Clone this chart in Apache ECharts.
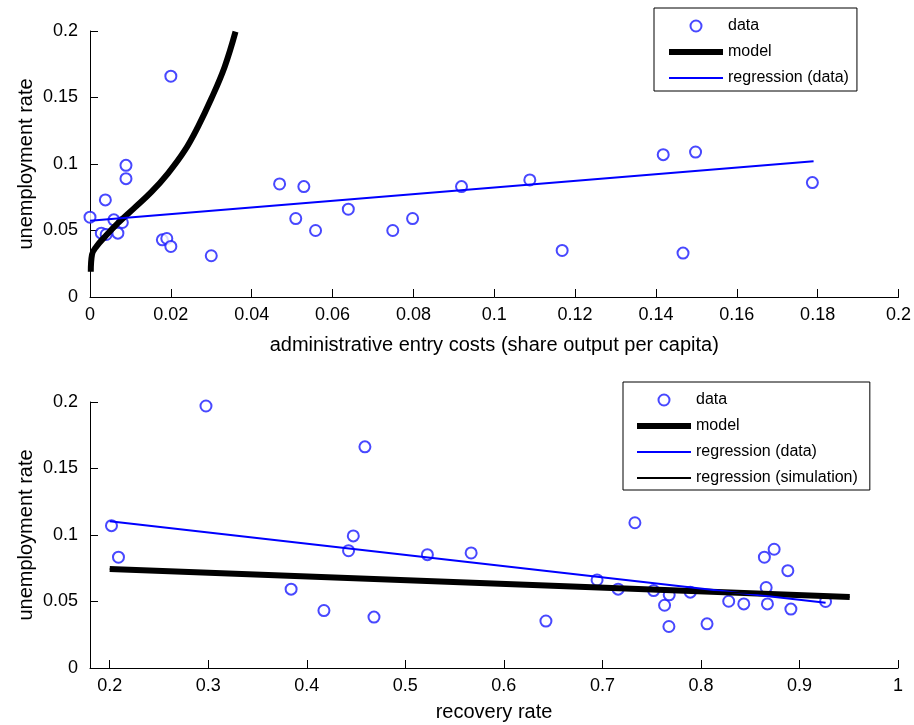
<!DOCTYPE html>
<html>
<head>
<meta charset="UTF-8">
<title>unemployment vs entry costs and recovery rate</title>
<script src="https://cdn.jsdelivr.net/npm/echarts@6/dist/echarts.min.js"></script>
<style>
  html, body { margin: 0; padding: 0; background: #fff; }
  #chart { width: 914px; height: 725px; }
</style>
</head>
<body>
<div id="chart"></div>
<script>
// top panel: administrative entry costs
const costX = [0, 0.0028, 0.0040, 0.0038, 0.0059, 0.0080, 0.0069, 0.0089, 0.0089, 0.0200,
  0.0179, 0.0190, 0.0200, 0.0300, 0.0469, 0.0509, 0.0529, 0.0558, 0.0639, 0.0749,
  0.0798, 0.0919, 0.1088, 0.1168, 0.1418, 0.1467, 0.1498, 0.1787];
const costUnemp = [0.060, 0.048, 0.047, 0.073, 0.058, 0.056, 0.048, 0.099, 0.089, 0.166,
  0.043, 0.044, 0.038, 0.031, 0.085, 0.059, 0.083, 0.050, 0.066, 0.050,
  0.059, 0.083, 0.088, 0.035, 0.107, 0.033, 0.109, 0.086];
const costModelX = [0.0002, 0.0005, 0.0016, 0.0036, 0.0069, 0.0110, 0.0152, 0.0193, 0.0234, 0.0267, 0.0300, 0.0333, 0.0360];
const costModelY = [0.019, 0.032, 0.038, 0.045, 0.0555, 0.067, 0.079, 0.093, 0.110, 0.128, 0.149, 0.173, 0.1995];
const costRegX = [0, 0.179];
const costRegY = [0.0574, 0.102];

// bottom panel: recovery rate
const recX = [0.2018, 0.2089, 0.2977, 0.3841, 0.4174, 0.4424, 0.4472, 0.4590, 0.4682, 0.5224,
  0.5668, 0.6427, 0.6946, 0.7160, 0.7330, 0.7520, 0.7631, 0.7678, 0.7675, 0.7892,
  0.8062, 0.8282, 0.8435, 0.8644, 0.8662, 0.8675, 0.8743, 0.8882, 0.8913, 0.9265];
const recUnemp = [0.107, 0.0833, 0.197, 0.0593, 0.0432, 0.0882, 0.0993, 0.1663, 0.0383, 0.0852,
  0.0865, 0.0353, 0.0662, 0.0593, 0.1092, 0.0582, 0.0472, 0.055, 0.0312, 0.057,
  0.0332, 0.0502, 0.0482, 0.0833, 0.0605, 0.0482, 0.0893, 0.0732, 0.0443, 0.050];
const recModelX = [0.2, 0.951];
const recModelY = [0.0745, 0.0533];
const recRegX = [0.2, 0.9265];
const recRegY = [0.1103, 0.0490];
const recSimX = [0.2, 0.951];
const recSimY = [0.0745, 0.0533];
const recTicks = [0.2, 0.3, 0.4, 0.5, 0.6, 0.7, 0.8, 0.9, 1];

const FONT = "'Liberation Sans', Arial, sans-serif";
const pairs = (xs, ys) => xs.map((x, i) => [x, ys[i]]);

function valueAxis(extra) {
  return Object.assign({
    type: 'value',
    axisLine: { show: true, onZero: false, lineStyle: { color: '#000', width: 1 } },
    axisTick: { show: true, inside: true, length: 8, lineStyle: { color: '#000', width: 1 } },
    axisLabel: { color: '#000', fontSize: 18, fontFamily: FONT },
    splitLine: { show: false },
    nameLocation: 'middle',
    nameMoveOverlap: false,
    nameTextStyle: { color: '#000', fontSize: 20, fontFamily: FONT }
  }, extra);
}

// line entries in the legend: hide the marker ECharts puts in the middle
const lineEntry = (name, width) => ({ name: name, lineStyle: { width: width }, itemStyle: { opacity: 0 } });

function legendBox(top, left, names, padding) {
  return {
    orient: 'vertical', left: left, top: top,
    itemWidth: 54, itemHeight: 11, itemGap: 10,
    padding: padding,
    borderColor: '#000', borderWidth: 1, backgroundColor: '#fff',
    textStyle: { color: '#000', fontSize: 16, fontFamily: FONT },
    data: names
  };
}

const chart = echarts.init(document.getElementById('chart'));
chart.setOption({
  animation: false,
  backgroundColor: '#fff',
  textStyle: { fontFamily: FONT },
  grid: [
    { left: 90, top: 31, width: 809, height: 266 },
    { left: 90, top: 402, width: 808, height: 266 }
  ],
  xAxis: [
    valueAxis({ gridIndex: 0, min: 0, max: 0.2, interval: 0.02,
      name: 'administrative entry costs (share output per capita)', nameGap: 38,
      axisLabel: { color: '#000', fontSize: 18, fontFamily: FONT, margin: 9 } }),
    valueAxis({ gridIndex: 1, min: 0.18, max: 1,
      name: 'recovery rate', nameGap: 34,
      axisTick: { show: true, inside: true, length: 8, customValues: recTicks, lineStyle: { color: '#000', width: 1 } },
      axisLabel: { color: '#000', fontSize: 18, fontFamily: FONT, margin: 9, customValues: recTicks } })
  ],
  yAxis: [
    valueAxis({ gridIndex: 0, min: 0, max: 0.2, interval: 0.05,
      name: 'unemployment rate', nameGap: 54,
      axisLabel: { color: '#000', fontSize: 18, fontFamily: FONT, margin: 12 } }),
    valueAxis({ gridIndex: 1, min: 0, max: 0.2, interval: 0.05,
      name: 'unemployment rate', nameGap: 54,
      axisLabel: { color: '#000', fontSize: 18, fontFamily: FONT, margin: 12 } })
  ],
  legend: [
    legendBox(8, 654, [
      { name: 'data' },
      lineEntry('model', 6),
      lineEntry('regression (data)', 2)
    ], [10, 8, 5, 12]),
    legendBox(382, 623, [
      { name: 'data' },
      lineEntry('model', 6),
      lineEntry('regression (data)', 2),
      lineEntry('regression (simulation)', 2)
    ], [10, 12, 4, 11])
  ],
  series: [
    { name: 'data', type: 'scatter', xAxisIndex: 0, yAxisIndex: 0,
      symbol: 'emptyCircle', symbolSize: 11,
      itemStyle: { color: '#1a1aff', borderWidth: 1 },
      data: pairs(costX, costUnemp) },
    { name: 'model', type: 'line', xAxisIndex: 0, yAxisIndex: 0,
      symbol: 'none', smooth: 0.4,
      lineStyle: { color: '#000', width: 6 }, itemStyle: { color: '#000' },
      data: pairs(costModelX, costModelY) },
    { name: 'regression (data)', type: 'line', xAxisIndex: 0, yAxisIndex: 0,
      symbol: 'none', lineStyle: { color: '#0000ff', width: 2 }, itemStyle: { color: '#0000ff' },
      data: pairs(costRegX, costRegY) },

    { name: 'data', type: 'scatter', xAxisIndex: 1, yAxisIndex: 1,
      symbol: 'emptyCircle', symbolSize: 11,
      itemStyle: { color: '#1a1aff', borderWidth: 1 },
      data: pairs(recX, recUnemp) },
    { name: 'model', type: 'line', xAxisIndex: 1, yAxisIndex: 1,
      symbol: 'none', lineStyle: { color: '#000', width: 6 }, itemStyle: { color: '#000' },
      data: pairs(recModelX, recModelY) },
    { name: 'regression (data)', type: 'line', xAxisIndex: 1, yAxisIndex: 1,
      symbol: 'none', lineStyle: { color: '#0000ff', width: 2 }, itemStyle: { color: '#0000ff' },
      data: pairs(recRegX, recRegY) },
    { name: 'regression (simulation)', type: 'line', xAxisIndex: 1, yAxisIndex: 1,
      symbol: 'none', lineStyle: { color: '#000', width: 1.5 }, itemStyle: { color: '#000' },
      data: pairs(recSimX, recSimY) }
  ]
});
</script>
</body>
</html>
